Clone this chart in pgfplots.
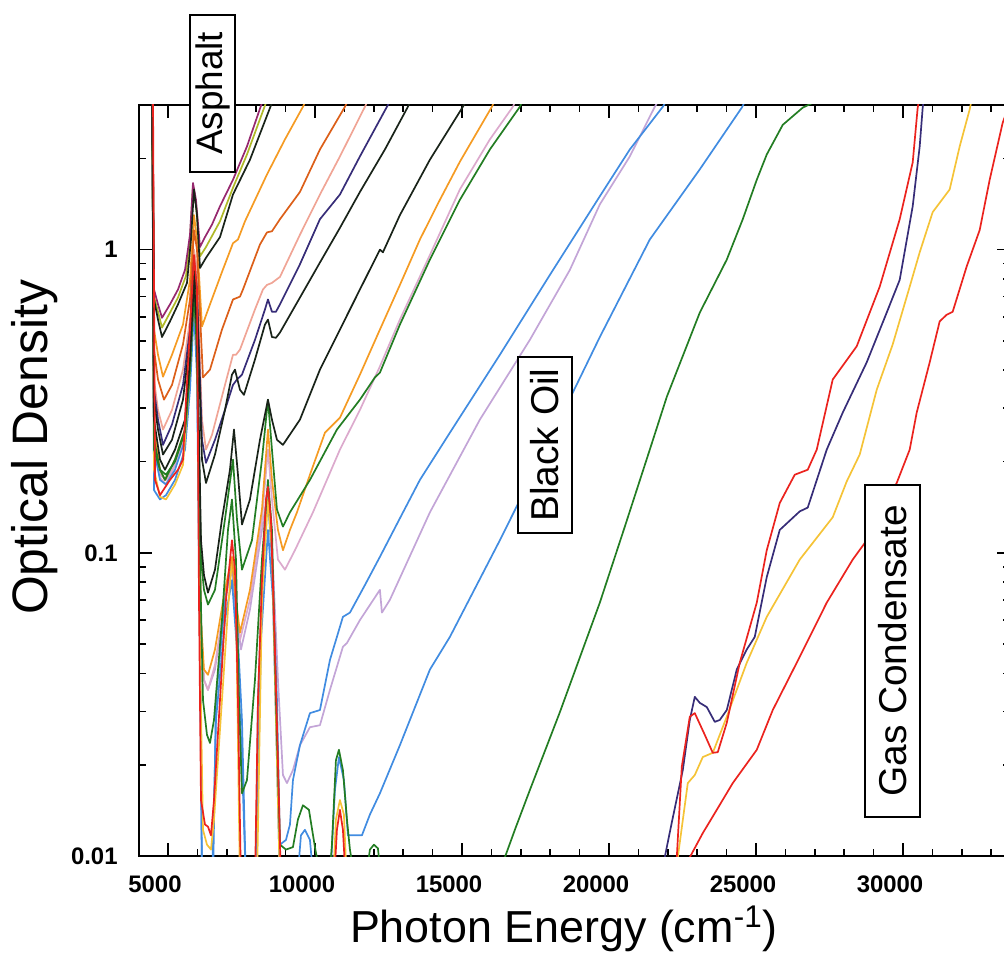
\documentclass[border=0pt]{standalone}
\usepackage{fontspec}
\setmainfont{Liberation Sans}
\usepackage{pgfplots}
\pgfplotsset{compat=1.18}
\definecolor{cMaroon}{RGB}{150,40,110}
\definecolor{cOlive}{RGB}{175,185,40}
\definecolor{cBlack}{RGB}{25,35,25}
\definecolor{cOrange}{RGB}{245,155,35}
\definecolor{cDkOrange}{RGB}{220,95,25}
\definecolor{cSalmon}{RGB}{240,165,150}
\definecolor{cNavy}{RGB}{55,45,120}
\definecolor{cGreen}{RGB}{35,125,35}
\definecolor{cPink}{RGB}{220,170,205}
\definecolor{cBlue}{RGB}{65,140,225}
\definecolor{cLav}{RGB}{195,165,215}
\definecolor{cRed}{RGB}{235,35,30}
\definecolor{cYellow}{RGB}{245,195,55}
\begin{document}
\begin{tikzpicture}
\useasboundingbox (0,0) rectangle (502bp,479bp);
\begin{axis}[
  at={(69.3bp,51bp)}, anchor=south west,
  scale only axis, width=435.7bp, height=375.5bp,
  xmin=4000, xmax=33640, ymode=log, ymin=0.01, ymax=3,
  scaled x ticks=false,
  xtick={5000,10000,15000,20000,25000,30000},
  xticklabels={5000,10000,15000,20000,25000,30000},
  minor xtick={4000,5000,...,33000},
  ytick={0.01,0.1,1}, yticklabels={0.01,0.1,1},
  minor ytick={0.02,0.03,0.04,0.05,0.06,0.07,0.08,0.09,0.2,0.3,0.4,0.5,0.6,0.7,0.8,0.9,2,3},
  tick pos=both, tick align=inside,
  ticklabel style={font=\fontsize{12}{14}\selectfont\bfseries},
  xticklabel style={yshift=-6.5bp, xshift=-6.5bp},
  yticklabel style={xshift=-7bp},
  major tick length=6.5bp, minor tick length=3.5bp,
  tick style={black, line width=0.8bp},
  axis line style={black, line width=1bp},
  xlabel={Photon Energy (cm\textsuperscript{-1})},
  ylabel={Optical Density},
  xlabel style={font=\fontsize{22.5}{27}\selectfont, at={(axis description cs:0.488,-0.1158)}, anchor=base},
  ylabel style={font=\fontsize{25}{30}\selectfont, at={(axis description cs:-0.1051,0.544)}, anchor=base},
  clip=true,
  every axis plot/.append style={line width=0.85bp, line join=round},
]
% light curves first
\addplot[cLav] coordinates {(4000,5)(4456,5)(4524,0.227)(4728,0.181)(4932,0.174)(5238,0.195)(5578,0.245)(5748,0.387)(5884,0.70)(5986,0.45)(6122,0.06)(6224,0.0381)(6360,0.0353)(6598,0.0412)(6938,0.07)(7176,0.0914)(7312,0.065)(7482,0.048)(7788,0.065)(8196,0.119)(8400,0.161)(8570,0.0914)(8740,0.0381)(8910,0.0185)(9046,0.0174)(9250,0.0192)(9488,0.0232)(9828,0.0266)(10168,0.027)(10508,0.0353)(10950,0.049)(11086,0.0504)(11528,0.06)(12208,0.0755)(12276,0.0635)(12548,0.07)(13908,0.136)(15608,0.275)(17308,0.504)(18668,0.857)(19688,1.41)(20708,2.03)(21558,2.96)(21898,3.37)};
\addplot[cPink] coordinates {(4000,5)(4456,5)(4524,0.227)(4728,0.177)(4932,0.168)(5238,0.195)(5578,0.245)(5748,0.387)(5884,0.70)(5986,0.45)(6122,0.0558)(6224,0.0381)(6360,0.0353)(6598,0.0427)(6938,0.07)(7176,0.088)(7312,0.065)(7448,0.0515)(7788,0.07)(8196,0.129)(8400,0.219)(8536,0.15)(8740,0.095)(8978,0.088)(9318,0.102)(9930,0.136)(10848,0.219)(11528,0.296)(12208,0.412)(12888,0.588)(13908,0.96)(14928,1.58)(15948,2.31)(16730,2.96)(17070,3.5)};
\addplot[cSalmon] coordinates {(4000,5)(4456,5)(4524,0.373)(4660,0.296)(4830,0.255)(5136,0.296)(5510,0.402)(5748,0.588)(5884,1.0)(5986,0.857)(6156,0.275)(6292,0.219)(6496,0.245)(6938,0.358)(7210,0.45)(7312,0.45)(7448,0.468)(7958,0.635)(8230,0.739)(8366,0.765)(8536,0.777)(8808,0.813)(9488,1.12)(10168,1.52)(10848,2.03)(11698,2.96)(12038,3.5)};
\addplot[cBlue] coordinates {(4000,5)(4456,5)(4524,0.219)(4728,0.174)(4932,0.168)(5238,0.188)(5578,0.236)(5748,0.373)(5884,0.685)(5986,0.434)(6088,0.07)(6156,0.008)(6530,0.008)(6632,0.0327)(6938,0.07)(7176,0.095)(7346,0.06)(7516,0.0281)(7652,0.008)(7992,0.008)(8060,0.0327)(8264,0.11)(8400,0.15)(8536,0.095)(8706,0.0327)(8808,0.0109)(9012,0.0113)(9148,0.0127)(9250,0.0178)(9488,0.0232)(9828,0.0296)(10168,0.0303)(10508,0.0443)(10950,0.0615)(11188,0.0635)(11698,0.0783)(12208,0.097)(12888,0.130)(13568,0.174)(14588,0.249)(16288,0.45)(17988,0.825)(19688,1.50)(20708,2.14)(21830,2.96)(22170,3.37)};
\addplot[cBlue] coordinates {(4000,5)(4456,5)(4524,0.161)(4728,0.150)(4932,0.155)(5238,0.174)(5578,0.219)(5748,0.345)(5884,0.635)(5986,0.381)(6088,0.048)(6156,0.008)(6496,0.008)(6632,0.0281)(6938,0.06)(7176,0.0813)(7346,0.048)(7516,0.0207)(7652,0.008)(7992,0.008)(8162,0.0515)(8400,0.119)(8570,0.07)(8706,0.0207)(8808,0.008)(9386,0.008)(9522,0.0117)(9658,0.0122)(9828,0.0113)(9964,0.008)(10508,0.008)(10678,0.0165)(10814,0.0212)(10984,0.0178)(11120,0.0117)(11596,0.0117)(11868,0.0137)(12208,0.0161)(12888,0.0232)(13908,0.0412)(14588,0.0528)(16288,0.110)(17988,0.236)(19688,0.515)(21388,1.08)(23088,1.84)(24516,2.94)(24856,3.42)};
\addplot[cYellow] coordinates {(4000,5)(4456,5)(4524,0.188)(4728,0.153)(4932,0.150)(5238,0.168)(5510,0.195)(5680,0.32)(5884,0.857)(5986,0.635)(6088,0.048)(6190,0.0122)(6326,0.0109)(6462,0.0105)(6564,0.0132)(6836,0.0327)(7040,0.065)(7176,0.095)(7312,0.070)(7448,0.008)(8026,0.008)(8196,0.070)(8400,0.15)(8536,0.102)(8706,0.0207)(8808,0.008)(10610,0.008)(10712,0.0132)(10848,0.0153)(10984,0.0137)(11086,0.008)};
\addplot[cOrange] coordinates {(4000,5)(4456,5)(4524,0.255)(4728,0.188)(4898,0.174)(5238,0.203)(5578,0.255)(5748,0.402)(5884,0.739)(5986,0.457)(6122,0.06)(6224,0.0412)(6360,0.0396)(6598,0.048)(6938,0.0755)(7176,0.097)(7312,0.070)(7448,0.0545)(7788,0.0755)(8196,0.139)(8400,0.255)(8536,0.174)(8740,0.119)(8910,0.102)(9148,0.119)(9386,0.136)(9828,0.181)(10338,0.249)(10848,0.279)(11528,0.387)(12208,0.545)(12888,0.765)(13568,1.08)(14248,1.46)(14928,1.95)(16016,2.96)(16356,3.5)};
\addplot[cOrange] coordinates {(4000,5)(4456,5)(4524,0.545)(4660,0.45)(4830,0.381)(5136,0.45)(5510,0.566)(5748,0.795)(5884,1.30)(5986,1.08)(6156,0.558)(6428,0.66)(6836,0.844)(7210,1.05)(7380,1.08)(7618,1.24)(8366,1.77)(8978,2.31)(9590,2.96)(9930,3.5)};
\addplot[cDkOrange] coordinates {(4000,5)(4456,5)(4524,0.468)(4660,0.373)(4864,0.32)(5136,0.358)(5510,0.487)(5748,0.685)(5884,1.16)(5986,1.0)(6190,0.379)(6428,0.402)(6836,0.545)(7210,0.685)(7448,0.70)(7550,0.739)(8128,1.04)(8366,1.14)(8536,1.15)(8808,1.26)(9488,1.55)(10168,2.14)(11018,2.96)(11358,3.5)};
\addplot[cOlive] coordinates {(4000,5)(4456,5)(4524,0.70)(4660,0.624)(4796,0.553)(5068,0.62)(5340,0.695)(5612,0.82)(5748,1.08)(5850,1.63)(5952,1.41)(6088,0.95)(6292,1.02)(6768,1.24)(7210,1.60)(7686,2.06)(8332,3.05)(8672,3.78)};
\addplot[cGreen] coordinates {(4000,5)(4456,5)(4524,0.236)(4728,0.188)(4898,0.174)(5238,0.203)(5578,0.255)(5748,0.402)(5884,0.739)(5986,0.457)(6122,0.095)(6224,0.0755)(6360,0.0675)(6598,0.0755)(6938,0.129)(7210,0.203)(7346,0.129)(7516,0.088)(7856,0.110)(8196,0.203)(8400,0.32)(8536,0.219)(8706,0.139)(8910,0.122)(9148,0.136)(9828,0.174)(10746,0.255)(11528,0.32)(12038,0.379)(12208,0.393)(12888,0.566)(13908,0.927)(14928,1.46)(15948,2.14)(16968,2.96)(17308,3.5)};
\addplot[cGreen] coordinates {(4000,5)(4456,5)(4524,0.219)(4728,0.188)(4932,0.181)(5238,0.200)(5578,0.251)(5748,0.402)(5884,0.739)(5986,0.512)(6088,0.095)(6190,0.0327)(6326,0.0251)(6428,0.0236)(6564,0.0281)(6836,0.060)(7040,0.119)(7176,0.150)(7312,0.095)(7414,0.0327)(7516,0.0161)(7686,0.0178)(7958,0.0381)(8196,0.095)(8400,0.174)(8536,0.119)(8672,0.0327)(8808,0.0109)(9012,0.0105)(9250,0.0107)(9420,0.0132)(9590,0.0147)(9794,0.0142)(9998,0.0107)(10236,0.008)(10474,0.008)(10576,0.0109)(10712,0.0207)(10814,0.0224)(10950,0.0192)(11086,0.0132)(11188,0.0105)(11392,0.008)(11698,0.008)(11868,0.0105)(12004,0.0109)(12140,0.0106)(12276,0.008)(12718,0.008)};
\addplot[cGreen] coordinates {(16288,0.008)(16458,0.0099)(16798,0.0122)(17308,0.0165)(18328,0.0298)(19688,0.0685)(20538,0.122)(21388,0.219)(21966,0.327)(23088,0.62)(24006,0.927)(24550,1.26)(25026,1.70)(25366,2.06)(25910,2.58)(26590,2.94)(27508,3.25)};
\addplot[cNavy] coordinates {(4000,5)(4456,5)(4524,0.345)(4660,0.275)(4830,0.227)(5136,0.265)(5510,0.358)(5748,0.545)(5884,0.927)(5986,0.739)(6156,0.236)(6292,0.198)(6598,0.236)(6938,0.296)(7210,0.358)(7346,0.373)(7516,0.387)(7958,0.504)(8298,0.635)(8400,0.685)(8536,0.624)(8672,0.624)(8808,0.66)(9488,0.895)(10168,1.26)(10848,1.52)(11528,2.03)(12446,2.96)(12786,3.42)};
\addplot[cMaroon] coordinates {(4000,5)(4456,5)(4524,0.739)(4660,0.66)(4796,0.596)(5068,0.66)(5340,0.739)(5578,0.857)(5748,1.12)(5850,1.66)(5952,1.46)(6088,1.02)(6258,1.10)(6496,1.21)(6768,1.39)(7210,1.70)(7686,2.19)(8196,3.05)(8536,3.78)};
\addplot[cBlack] coordinates {(4000,5)(4456,5)(4524,0.685)(4660,0.588)(4796,0.515)(5068,0.58)(5340,0.66)(5646,0.777)(5782,1.08)(5884,1.58)(5986,1.30)(6088,0.87)(6292,0.94)(6768,1.10)(7210,1.52)(7788,1.98)(8536,3.05)(8876,3.78)};
\addplot[cBlack] coordinates {(4000,5)(4456,5)(4524,0.32)(4660,0.255)(4830,0.211)(5136,0.236)(5510,0.32)(5748,0.504)(5884,0.895)(5986,0.685)(6156,0.203)(6292,0.170)(6598,0.211)(6938,0.296)(7176,0.387)(7278,0.402)(7448,0.345)(7584,0.332)(7958,0.434)(8298,0.566)(8400,0.588)(8536,0.515)(8672,0.512)(8808,0.533)(9488,0.695)(10168,0.907)(10848,1.18)(11528,1.55)(12378,2.14)(13160,2.96)(13500,3.5)};
\addplot[cBlack] coordinates {(4000,5)(4456,5)(4524,0.275)(4728,0.203)(4898,0.188)(5238,0.219)(5578,0.275)(5748,0.434)(5884,0.795)(5986,0.545)(6122,0.11)(6224,0.0844)(6360,0.0739)(6598,0.088)(6836,0.129)(7108,0.188)(7244,0.255)(7380,0.181)(7516,0.124)(7788,0.15)(8128,0.236)(8400,0.32)(8536,0.275)(8706,0.236)(8910,0.227)(9488,0.275)(10168,0.402)(10848,0.545)(11528,0.739)(12208,1.0)(12310,0.98)(12888,1.30)(13908,1.98)(15030,2.96)(15438,3.5)};
\addplot[cRed] coordinates {(4000,5)(4388,5)(4490,3.13)(4558,0.174)(4728,0.155)(5068,0.174)(5340,0.188)(5510,0.203)(5612,0.32)(5748,0.545)(5884,0.96)(5986,0.739)(6054,0.07)(6122,0.0153)(6258,0.0127)(6360,0.0125)(6462,0.0117)(6564,0.0153)(6768,0.0327)(6972,0.07)(7176,0.11)(7278,0.088)(7380,0.0327)(7482,0.008)(7958,0.008)(8060,0.0327)(8196,0.0813)(8332,0.15)(8400,0.165)(8502,0.129)(8638,0.048)(8774,0.0153)(8842,0.008)(10644,0.008)(10746,0.0122)(10848,0.0142)(10950,0.0122)(11052,0.008)};
% gas condensates
\addplot[cYellow] coordinates {(22136,0.008)(22340,0.0099)(22680,0.0174)(22918,0.0185)(23190,0.0212)(23530,0.0219)(24006,0.0288)(24686,0.0434)(25366,0.0615)(26488,0.095)(27610,0.131)(28086,0.172)(28528,0.211)(29106,0.345)(29650,0.487)(30228,0.755)(30568,0.98)(31010,1.33)(31588,1.58)(31928,2.19)(32268,2.90)(32438,3.5)};
\addplot[cNavy] coordinates {(21728,0.008)(21898,0.0099)(21966,0.0107)(22136,0.0129)(22510,0.0192)(22748,0.0281)(22918,0.0335)(23088,0.032)(23326,0.031)(23598,0.0277)(23768,0.0281)(24006,0.0303)(24346,0.0412)(24686,0.048)(24958,0.0528)(25366,0.0832)(25808,0.119)(26488,0.137)(26760,0.141)(27406,0.219)(27950,0.29)(28766,0.425)(29446,0.62)(29888,0.795)(30330,1.39)(30568,2.19)(30670,2.94)(30772,3.5)};
\addplot[cRed] coordinates {(22068,0.008)(22306,0.0099)(22476,0.0197)(22748,0.0288)(22918,0.0296)(23258,0.0251)(23530,0.0219)(23700,0.022)(24006,0.0275)(24448,0.0434)(25026,0.0685)(25366,0.102)(25808,0.146)(26318,0.181)(26760,0.188)(27066,0.219)(27610,0.373)(28426,0.48)(29208,0.755)(29888,1.26)(30330,1.94)(30500,2.94)(30636,3.5)};
\addplot[cRed] coordinates {(22578,0.008)(22748,0.0099)(23190,0.0119)(23530,0.0135)(24210,0.0174)(25026,0.0224)(25570,0.0303)(26488,0.0454)(27406,0.0685)(28290,0.095)(28766,0.110)(29106,0.131)(29786,0.170)(30228,0.219)(30466,0.29)(30908,0.425)(31248,0.58)(31486,0.61)(31690,0.624)(32166,0.88)(32608,1.16)(32948,1.70)(33390,2.62)(33798,3.37)};
\end{axis}
\node[draw=black, line width=0.8bp, fill=white, rotate=90, inner sep=0pt, minimum width=78.5bp, minimum height=22.5bp, font=\fontsize{18.5}{20}\selectfont] at (106.25bp,432.25bp) {Asphalt};
\node[draw=black, line width=0.8bp, fill=white, rotate=90, inner sep=0pt, minimum width=88bp, minimum height=27bp, font=\fontsize{19.5}{21}\selectfont] at (272.5bp,256.5bp) {Black Oil};
\node[draw=black, line width=0.8bp, fill=white, rotate=90, inner sep=0pt, minimum width=166bp, minimum height=27.5bp, font=\fontsize{19.5}{21}\selectfont] at (446.25bp,153.5bp) {Gas Condensate};
\end{tikzpicture}
\end{document}
